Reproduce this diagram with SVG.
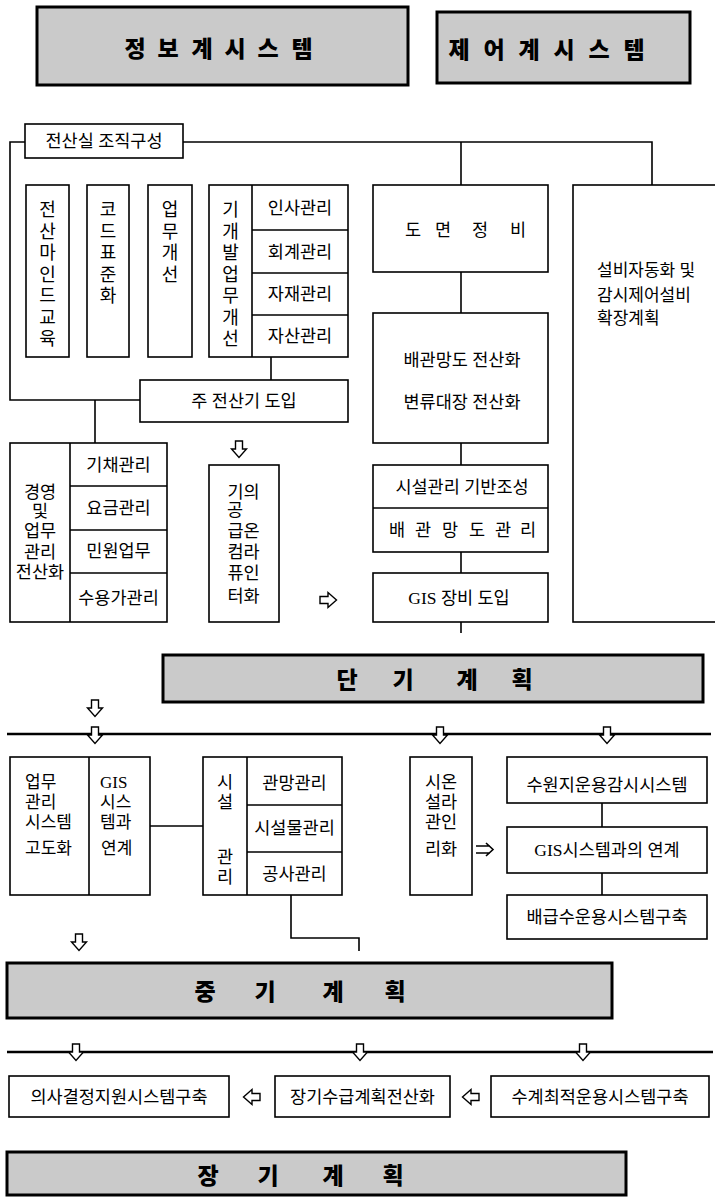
<svg xmlns="http://www.w3.org/2000/svg" xmlns:xlink="http://www.w3.org/1999/xlink" width="715" height="1198" viewBox="0 0 715 1198">
<style>
.box{fill:#fff;stroke:#000;stroke-width:1.6}
.ln{fill:none;stroke:#000;stroke-width:1.6}
.thick{fill:none;stroke:#000;stroke-width:2.6}
.banner{fill:#cacaca;stroke:#000;stroke-width:3}
.arr{fill:#fff;stroke:#000;stroke-width:1.4;stroke-linejoin:miter}
.t{font-family:'Liberation Serif','Noto Sans CJK KR',serif;font-size:17.5px;fill:#000;text-anchor:middle;dominant-baseline:central}
.tl{font-family:'Liberation Serif','Noto Sans CJK KR',serif;font-size:17px;fill:#000;text-anchor:start;dominant-baseline:central}
.v{font-family:'Noto Sans CJK KR',sans-serif;font-size:18px;fill:#000;text-anchor:middle;dominant-baseline:central}
.bt{font-family:'Noto Sans CJK KR',sans-serif;font-weight:900;font-size:23px;fill:#000;text-anchor:middle;dominant-baseline:central}
</style>
<defs>
<path id="arrD" class="arr" d="M-3.5,-8 H3.5 V0 H7.5 L0,8.5 L-7.5,0 H-3.5 Z"/>
</defs>
<rect width="715" height="1198" fill="#fff"/>

<g id="connectors">
<path class="ln" d="M25,142 H10 V400 H140"/>
<path class="ln" d="M183,142 H652 V185"/>
<path class="ln" d="M461,142 V185"/>
<path class="ln" d="M461,272 V313"/>
<path class="ln" d="M461,443 V465"/>
<path class="ln" d="M461,552 V573"/>
<path class="ln" d="M461,622 V633"/>
<path class="ln" d="M271,357 V380"/>
<path class="ln" d="M95,400 V443"/>
<path class="ln" d="M150,826 H203"/>
<path class="ln" d="M291,895 V938 H359 V951"/>
<path class="ln" d="M602,803 V827"/>
<path class="ln" d="M602,873 V895"/>
<path class="thick" d="M7,734 H711"/>
<path class="thick" d="M7,1052 H713"/>
<use xlink:href="#arrD" transform="translate(239,449)"/>
<use xlink:href="#arrD" transform="translate(328,600) rotate(-90)"/>
<use xlink:href="#arrD" transform="translate(95,708)"/>
<use xlink:href="#arrD" transform="translate(95,735)"/>
<use xlink:href="#arrD" transform="translate(440,735)"/>
<use xlink:href="#arrD" transform="translate(607,735)"/>
<use xlink:href="#arrD" transform="translate(79,942)"/>
<use xlink:href="#arrD" transform="translate(76,1052)"/>
<use xlink:href="#arrD" transform="translate(360,1052)"/>
<use xlink:href="#arrD" transform="translate(583,1052)"/>
<use xlink:href="#arrD" transform="translate(252,1097) rotate(90)"/>
<use xlink:href="#arrD" transform="translate(471,1097) rotate(90)"/>
<path class="ln" d="M476,846 H490 M476,853 H490 M486,843 L493,849.5 L486,856" stroke-width="1.3"/>
</g>

<g id="n-jeongbo">
<rect class="banner" x="37" y="7" width="371" height="78"/>
<text class="bt" x="135 168 202 235 268 302" y="47">정보계시스템</text>
</g>
<g id="n-jeeo">
<rect class="banner" x="437" y="12" width="253" height="71"/>
<text class="bt" x="459 494 529 564 599 634" y="48">제어계시스템</text>
</g>

<g id="n-jeonsansil">
<rect class="box" x="25" y="124" width="158" height="34"/>
<text class="t" x="104" y="141" font-size="18">전산실 조직구성</text>
</g>

<g id="n-mind">
<rect class="box" x="26" y="185" width="43" height="172"/>
<text class="v" x="47.5 47.5 47.5 47.5 47.5 47.5 47.5" y="208 229.5 251 272.5 294 315.5 337">전산마인드교육</text>
</g>
<g id="n-code">
<rect class="box" x="87" y="185" width="42" height="172"/>
<text class="v" x="108 108 108 108 108" y="208 229.5 251 272.5 294">코드표준화</text>
</g>
<g id="n-upmu">
<rect class="box" x="148" y="185" width="44" height="172"/>
<text class="v" x="170 170 170 170" y="208 229.5 251 272.5">업무개선</text>
</g>
<g id="n-gigaebal">
<rect class="box" x="209" y="185" width="139" height="172"/>
<path class="ln" d="M252,185 V357 M252,230 H348 M252,273 H348 M252,315 H348"/>
<text class="v" x="230.5 230.5 230.5 230.5 230.5 230.5 230.5" y="208 229.5 251 272.5 294 315.5 337">기개발업무개선</text>
<text class="t" x="300" y="207.5">인사관리</text>
<text class="t" x="300" y="251.5">회계관리</text>
<text class="t" x="300" y="294">자재관리</text>
<text class="t" x="300" y="336">자산관리</text>
</g>

<g id="n-domyeon">
<rect class="box" x="373" y="185" width="175" height="87"/>
<text class="t" x="413 443 480 518" y="230">도면정비</text>
</g>
<g id="n-seolbi">
<rect class="box" x="573" y="185" width="150" height="437"/>
<text class="tl" y="270"><tspan x="597" y="270">설비자동화 및</tspan><tspan x="597" y="295">감시제어설비</tspan><tspan x="597" y="318">확장계획</tspan></text>
</g>

<g id="n-jujeonsan">
<rect class="box" x="140" y="380" width="208" height="42"/>
<text class="t" x="244" y="401" font-size="18">주 전산기 도입</text>
</g>

<g id="n-baegwan">
<rect class="box" x="373" y="313" width="175" height="130"/>
<text class="t" x="462" y="360">배관망도 전산화</text>
<text class="t" x="462" y="402">변류대장 전산화</text>
</g>
<g id="n-siseol-giban">
<rect class="box" x="373" y="465" width="175" height="87"/>
<path class="ln" d="M373,508 H548"/>
<text class="t" x="462" y="487">시설관리 기반조성</text>
<text class="t" x="397 423 450 477 503 528" y="530">배관망도관리</text>
</g>
<g id="n-gis-jangbi">
<rect class="box" x="373" y="573" width="175" height="49"/>
<text class="t" x="459" y="598">GIS 장비 도입</text>
</g>

<g id="n-gyeongyeong">
<rect class="box" x="10" y="443" width="157" height="179"/>
<path class="ln" d="M70,443 V622 M70,486 H167 M70,530 H167 M70,573 H167"/>
<text class="t"><tspan x="40" y="492">경영</tspan><tspan x="40" y="511">및</tspan><tspan x="40" y="531">업무</tspan><tspan x="40" y="552">관리</tspan><tspan x="40" y="572">전산화</tspan></text>
<text class="t" x="118.5" y="465">기채관리</text>
<text class="t" x="118.5" y="508">요금관리</text>
<text class="t" x="118.5" y="551">민원업무</text>
<text class="t" x="118.5" y="598">수용가관리</text>
</g>

<g id="n-gigonggeup">
<rect class="box" x="209" y="465" width="70" height="157"/>
<text class="t"><tspan x="243.5" y="492">기의</tspan><tspan x="235" y="510">공</tspan><tspan x="243.5" y="531">급온</tspan><tspan x="243.5" y="552">컴라</tspan><tspan x="243.5" y="573">퓨인</tspan><tspan x="243.5" y="596">터화</tspan></text>
</g>

<g id="n-dangi">
<rect class="banner" x="163" y="655" width="540" height="47"/>
<text class="bt" x="347 403 467 522" y="678">단기계획</text>
</g>

<g id="n-upmugwanri">
<rect class="box" x="10" y="757" width="140" height="138"/>
<path class="ln" d="M89,757 V895"/>
<text class="tl"><tspan x="25" y="782">업무</tspan><tspan x="25" y="802">관리</tspan><tspan x="25" y="822">시스템</tspan><tspan x="25" y="848">고도화</tspan></text>
<text class="tl"><tspan x="100" y="782">GIS</tspan><tspan x="100" y="802">시스</tspan><tspan x="100" y="822">템과</tspan><tspan x="101" y="848">연계</tspan></text>
</g>

<g id="n-siseolgwanri">
<rect class="box" x="203" y="757" width="139" height="138"/>
<path class="ln" d="M247,757 V895 M247,805 H342 M247,852 H342"/>
<text class="t"><tspan x="225" y="782">시</tspan><tspan x="225" y="802">설</tspan><tspan x="225" y="857">관</tspan><tspan x="225" y="877">리</tspan></text>
<text class="t" x="294.5" y="783">관망관리</text>
<text class="t" x="294.5" y="828">시설물관리</text>
<text class="t" x="294.5" y="874">공사관리</text>
</g>

<g id="n-online">
<rect class="box" x="410" y="757" width="62" height="138"/>
<text class="t"><tspan x="441" y="782">시온</tspan><tspan x="441" y="802">설라</tspan><tspan x="441" y="822">관인</tspan><tspan x="441" y="849">리화</tspan></text>
</g>

<g id="n-suwonji">
<rect class="box" x="507" y="757" width="200" height="46"/>
<text class="t" x="607" y="785">수원지운용감시시스템</text>
</g>
<g id="n-gis-yeongye">
<rect class="box" x="507" y="827" width="200" height="46"/>
<text class="t" x="607" y="850">GIS시스템과의 연계</text>
</g>
<g id="n-baegeupsu">
<rect class="box" x="507" y="895" width="200" height="44"/>
<text class="t" x="607" y="917">배급수운용시스템구축</text>
</g>

<g id="n-junggi">
<rect class="banner" x="7" y="963" width="605" height="55"/>
<text class="bt" x="205 265 333 395" y="990">중기계획</text>
</g>

<g id="n-uisa">
<rect class="box" x="9" y="1076" width="220" height="41"/>
<text class="t" x="119" y="1097">의사결정지원시스템구축</text>
</g>
<g id="n-janggisugeup">
<rect class="box" x="275" y="1076" width="175" height="41"/>
<text class="t" x="362.5" y="1097">장기수급계획전산화</text>
</g>
<g id="n-sugye">
<rect class="box" x="491" y="1076" width="218" height="41"/>
<text class="t" x="600" y="1097">수계최적운용시스템구축</text>
</g>

<g id="n-janggi">
<rect class="banner" x="7" y="1152" width="619" height="43"/>
<text class="bt" x="208 268 333 393" y="1174">장기계획</text>
</g>
</svg>
